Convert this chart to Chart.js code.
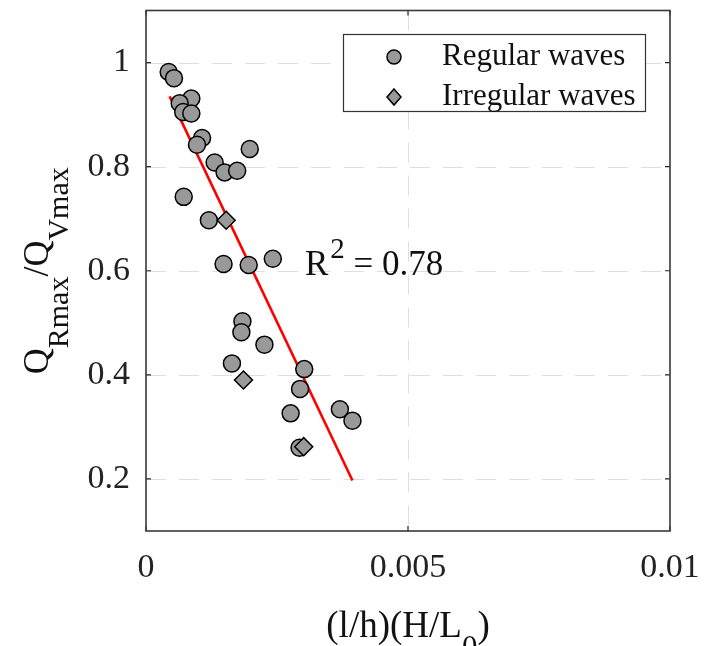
<!DOCTYPE html>
<html>
<head>
<meta charset="utf-8">
<script src="https://cdn.jsdelivr.net/npm/chart.js@4.4.1/dist/chart.umd.min.js"></script>
<style>
  body { margin: 0; background: #fff; }
  #chart { display: block; }
</style>
</head>
<body>
<canvas id="chart" width="717" height="646"></canvas>
<script>
// data
const regularX = [0.000433, 0.000534, 0.000865, 0.000643, 0.00071, 0.000865, 0.00107, 0.000973, 0.00198, 0.00131,
  0.0015, 0.00174, 0.00072, 0.0012, 0.00148, 0.00196, 0.00242, 0.00184, 0.00182, 0.00226,
  0.00164, 0.00302, 0.00294, 0.00276, 0.0037, 0.00394, 0.00293];
const regularY = [0.982, 0.970, 0.931, 0.922, 0.905, 0.902, 0.855, 0.842, 0.834, 0.808,
  0.789, 0.792, 0.742, 0.697, 0.613, 0.611, 0.623, 0.503, 0.482, 0.458,
  0.422, 0.411, 0.373, 0.326, 0.334, 0.312, 0.260];
const irregularX = [0.00153, 0.00186, 0.00301];
const irregularY = [0.697, 0.390, 0.262];
const fitX = [0.00045, 0.00394];
const fitY = [0.935, 0.197];

const xTicks = [0, 0.005, 0.01];
const xTickLabels = ['0', '0.005', '0.01'];
const yTicks = [0.2, 0.4, 0.6, 0.8, 1];
const yTickLabels = ['0.2', '0.4', '0.6', '0.8', '1'];

const FONT = '"Liberation Serif", "Times New Roman", serif';
const markerFill = '#999999';

function toPoints(xs, ys) {
  return xs.map((x, i) => ({ x: x, y: ys[i] }));
}

// frame, dashed grid, inward ticks
const framePlugin = {
  id: 'frame',
  beforeDatasetsDraw(chart) {
    const { ctx, chartArea: a, scales } = chart;
    ctx.save();
    ctx.strokeStyle = '#dedede';
    ctx.lineWidth = 1;
    ctx.setLineDash([20, 13]);
    yTicks.forEach(v => {
      if (v <= scales.y.min || v >= scales.y.max) return;
      const py = Math.round(scales.y.getPixelForValue(v)) + 0.5;
      ctx.beginPath(); ctx.moveTo(a.left, py); ctx.lineTo(a.right, py); ctx.stroke();
    });
    xTicks.forEach(v => {
      if (v <= scales.x.min || v >= scales.x.max) return;
      const px = Math.round(scales.x.getPixelForValue(v)) + 0.5;
      ctx.beginPath(); ctx.moveTo(px, a.top); ctx.lineTo(px, a.bottom); ctx.stroke();
    });
    ctx.restore();
  },
  afterDatasetsDraw(chart) {
    const { ctx, chartArea: a, scales } = chart;
    ctx.save();
    ctx.strokeStyle = '#262626';
    ctx.lineWidth = 1.2;
    const t = 5;
    yTicks.forEach(v => {
      const py = scales.y.getPixelForValue(v);
      ctx.beginPath();
      ctx.moveTo(a.left, py); ctx.lineTo(a.left + t, py);
      ctx.moveTo(a.right, py); ctx.lineTo(a.right - t, py);
      ctx.stroke();
    });
    xTicks.forEach(v => {
      const px = scales.x.getPixelForValue(v);
      ctx.beginPath();
      ctx.moveTo(px, a.bottom); ctx.lineTo(px, a.bottom - t);
      ctx.moveTo(px, a.top); ctx.lineTo(px, a.top + t);
      ctx.stroke();
    });
    ctx.strokeStyle = '#3a3a3a';
    ctx.lineWidth = 1.6;
    ctx.strokeRect(a.left, a.top, a.right - a.left, a.bottom - a.top);
    ctx.restore();
  }
};

// draws a run of [text, isSub] pieces, left to right from x
function drawRuns(ctx, runs, x, y, mainSize, subSize, subDrop) {
  runs.forEach(r => {
    ctx.font = (r[1] ? subSize : mainSize) + 'px ' + FONT;
    ctx.fillText(r[0], x, r[1] ? y + subDrop : y);
    x += ctx.measureText(r[0]).width;
  });
}

function runsWidth(ctx, runs, mainSize, subSize) {
  let w = 0;
  runs.forEach(r => {
    ctx.font = (r[1] ? subSize : mainSize) + 'px ' + FONT;
    w += ctx.measureText(r[0]).width;
  });
  return w;
}

// axis titles, R^2 note and legend box
const textPlugin = {
  id: 'texts',
  afterDraw(chart) {
    const { ctx, chartArea: a } = chart;
    ctx.save();
    ctx.fillStyle = '#111';
    ctx.textBaseline = 'alphabetic';
    ctx.textAlign = 'left';

    // x title
    const xRuns = [['(l/h)(H/L', false], ['0', true], [')', false]];
    const xw = runsWidth(ctx, xRuns, 37, 31);
    drawRuns(ctx, xRuns, (a.left + a.right) / 2 - xw / 2, 637, 37, 31, 20);

    // y title
    const yRuns = [['Q', false], ['Rmax', true], ['/Q', false], ['Vmax', true]];
    const yw = runsWidth(ctx, yRuns, 36, 30);
    ctx.save();
    ctx.translate(48, (a.top + a.bottom) / 2);
    ctx.rotate(-Math.PI / 2);
    drawRuns(ctx, yRuns, -yw / 2, 0, 36, 30, 20);
    ctx.restore();

    // R^2 annotation
    ctx.font = '35px ' + FONT;
    ctx.fillText('R', 305, 275);
    let rx = 305 + ctx.measureText('R').width + 2;
    ctx.font = '29px ' + FONT;
    ctx.fillText('2', rx, 258);
    rx += ctx.measureText('2').width;
    ctx.font = '35px ' + FONT;
    ctx.fillText(' = 0.78', rx, 275);

    // legend
    const lx = 343, ly = 34, lw = 302, lh = 77;
    ctx.fillStyle = '#fff';
    ctx.fillRect(lx, ly, lw, lh);
    ctx.strokeStyle = '#333';
    ctx.lineWidth = 1.2;
    ctx.strokeRect(lx + 0.5, ly + 0.5, lw, lh);

    ctx.fillStyle = markerFill;
    ctx.strokeStyle = '#000';
    ctx.lineWidth = 1.5;
    ctx.beginPath();
    ctx.arc(394, 57, 7, 0, Math.PI * 2);
    ctx.fill(); ctx.stroke();
    ctx.beginPath();
    ctx.moveTo(394, 89); ctx.lineTo(401, 97); ctx.lineTo(394, 105); ctx.lineTo(387, 97);
    ctx.closePath();
    ctx.fill(); ctx.stroke();

    ctx.fillStyle = '#111';
    ctx.font = '31px ' + FONT;
    ctx.textBaseline = 'middle';
    ctx.fillText('Regular waves', 442, 57);
    ctx.fillText('Irregular waves', 442, 97);
    ctx.restore();
  }
};

new Chart(document.getElementById('chart'), {
  type: 'scatter',
  data: {
    datasets: [
      {
        label: 'Irregular waves',
        data: toPoints(irregularX, irregularY),
        pointStyle: 'rectRot',
        pointRadius: 9,
        backgroundColor: markerFill,
        borderColor: '#000',
        borderWidth: 1.5,
        order: 0
      },
      {
        label: 'Regular waves',
        data: toPoints(regularX, regularY),
        pointStyle: 'circle',
        pointRadius: 8.5,
        backgroundColor: markerFill,
        borderColor: '#000',
        borderWidth: 1.5,
        order: 1
      },
      {
        label: 'Fit',
        type: 'line',
        data: toPoints(fitX, fitY),
        borderColor: '#ff0000',
        borderWidth: 2.6,
        pointRadius: 0,
        fill: false,
        order: 2
      }
    ]
  },
  options: {
    responsive: false,
    animation: false,
    layout: { padding: { left: 0, top: 6, right: 47, bottom: 0 } },
    plugins: {
      legend: { display: false },
      tooltip: { enabled: false }
    },
    scales: {
      x: {
        type: 'linear',
        min: 0,
        max: 0.01,
        afterBuildTicks: s => { s.ticks = xTicks.map(v => ({ value: v })); },
        afterFit: s => { s.height = 115; s.paddingLeft = 0; s.paddingRight = 0; },
        grid: { display: false, drawTicks: false },
        border: { display: false },
        ticks: {
          font: { family: FONT, size: 34 },
          color: '#222',
          padding: 17,
          maxRotation: 0,
          callback: (v) => xTickLabels[xTicks.indexOf(v)]
        }
      },
      y: {
        type: 'linear',
        min: 0.1,
        max: 1.1,
        afterBuildTicks: s => { s.ticks = yTicks.map(v => ({ value: v })); },
        afterFit: s => { s.width = 146; s.paddingTop = 0; s.paddingBottom = 0; },
        grid: { display: false, drawTicks: false },
        border: { display: false },
        ticks: {
          font: { family: FONT, size: 34 },
          color: '#222',
          padding: 16,
          callback: (v) => yTickLabels[yTicks.indexOf(v)]
        }
      }
    }
  },
  plugins: [framePlugin, textPlugin]
});
</script>
</body>
</html>
